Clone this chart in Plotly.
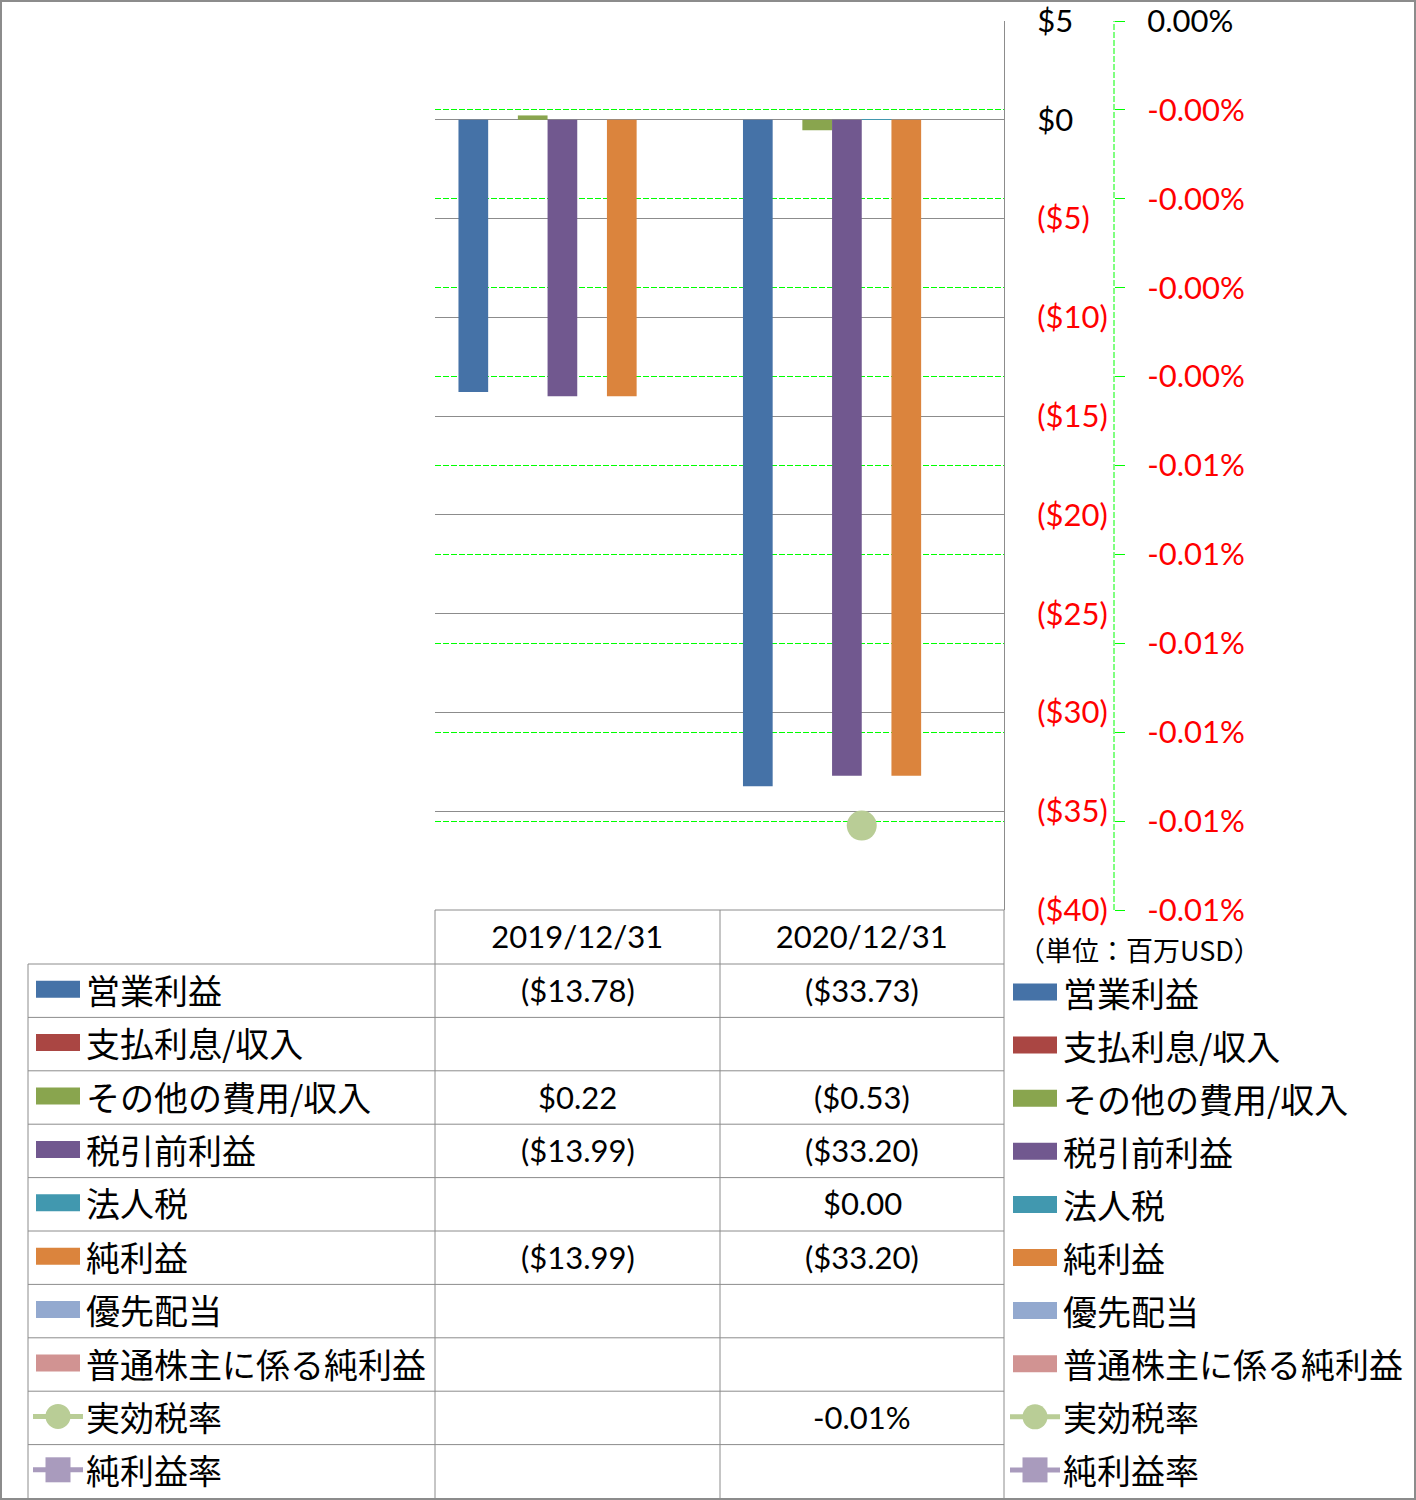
import plotly.graph_objects as go

# ---------------- data ----------------
dates = ["2019/12/31", "2020/12/31"]
series_names = ["営業利益", "支払利息/収入", "その他の費用/収入", "税引前利益", "法人税",
                "純利益", "優先配当", "普通株主に係る純利益", "実効税率", "純利益率"]
op_income = [-13.78, -33.73]
interest = [None, None]
other_income = [0.22, -0.53]
pretax_income = [-13.99, -33.20]
income_tax = [None, 0.003]
net_income = [-13.99, -33.20]
pref_dividend = [None, None]
net_common = [None, None]
eff_tax_rate = [None, -0.0000905]
net_margin = [None, None]

usd_ticks = [5, 0, -5, -10, -15, -20, -25, -30, -35, -40]
pct_ticks = [0, -0.00001, -0.00002, -0.00003, -0.00004, -0.00005,
             -0.00006, -0.00007, -0.00008, -0.00009, -0.0001]
pct_labels = ["0.00%", "-0.00%", "-0.00%", "-0.00%", "-0.00%", "-0.01%",
              "-0.01%", "-0.01%", "-0.01%", "-0.01%", "-0.01%"]
unit_label = "（単位：百万USD）"

bar_series = [op_income, interest, other_income, pretax_income, income_tax,
              net_income, pref_dividend, net_common]
line_series = [eff_tax_rate, net_margin]
bar_colors = ["#4572A7", "#AA4643", "#89A54E", "#71588F", "#4198AF",
              "#DB843D", "#93A9CF", "#D19392"]
line_colors = ["#B9CD96", "#A99BBD"]
line_symbols = ["circle", "square"]

# ---------------- layout helpers ----------------
W, H = 1416, 1500
def X(px):
    return px / W
def Y(py):
    return 1 - py / H

LAT = "Lato, 'Noto Sans CJK JP', sans-serif"
CJK = "'Noto Sans CJK JP', Lato, sans-serif"
GRAY = "#8C8C8C"
RED = "#FF0000"
LIME = "#00FF00"
DASH = "6px,2px"

def fmt_usd(v):
    if v is None:
        return ""
    if v < 0:
        return f"(${abs(v):.2f})"
    return f"${v:.2f}"

def fmt_pct(v):
    if v is None:
        return ""
    return f"{v*100:.2f}%"

def colored(t, neg):
    return f"<span style='color:{RED}'>{t}</span>" if neg else t

usd_text = [colored(fmt_usd(v).replace(".00", ""), v < 0) for v in usd_ticks]
pct_text = [colored(t, t.startswith("-")) for t in pct_labels]

fig = go.Figure()

# percent-axis traces on the main y axis
for name, vals, col, sym in zip(series_names[8:], line_series, line_colors, line_symbols):
    fig.add_trace(go.Scatter(x=dates, y=vals, name=name, mode="lines+markers",
                             line=dict(color=col, width=5),
                             marker=dict(color=col, size=30, symbol=sym),
                             xaxis="x", yaxis="y"))

for name, vals, col in zip(series_names[:8], bar_series, bar_colors):
    fig.add_trace(go.Bar(x=dates, y=vals, name=name, marker_color=col,
                         marker_line_width=0, xaxis="x", yaxis="y2"))

shapes = []
annos = []

# secondary (percent) axis dashed line
shapes.append(dict(type="line", xref="paper", yref="paper",
                   x0=X(1114), x1=X(1114), y0=Y(910), y1=Y(21),
                   line=dict(color=LIME, width=1, dash=DASH)))

# data table grid
row_top = 964
row_h = (1498 - 964) / 10
shapes.append(dict(type="line", xref="paper", yref="paper", x0=X(435), x1=X(1004),
                   y0=Y(910), y1=Y(910), line=dict(color=GRAY, width=1)))
for i in range(10):
    yy = row_top + i * row_h
    shapes.append(dict(type="line", xref="paper", yref="paper", x0=X(28), x1=X(1004),
                       y0=Y(yy), y1=Y(yy), line=dict(color=GRAY, width=1)))
for xx in (435, 720, 1004):
    shapes.append(dict(type="line", xref="paper", yref="paper", x0=X(xx), x1=X(xx),
                       y0=Y(910), y1=Y(1498), line=dict(color=GRAY, width=1)))
shapes.append(dict(type="line", xref="paper", yref="paper", x0=X(28), x1=X(28),
                   y0=Y(964), y1=Y(1498), line=dict(color=GRAY, width=1)))

# table values
col_centers = [577.5, 862]
all_series = bar_series + line_series
for i, (name, vals) in enumerate(zip(series_names, all_series)):
    yc = row_top + (i + 0.5) * row_h
    fmt = fmt_pct if i >= 8 else fmt_usd
    for xc, v in zip(col_centers, vals):
        t = fmt(v)
        if t:
            annos.append(dict(x=X(xc), y=Y(yc - 1), xref="paper", yref="paper", text=t,
                              showarrow=False, xanchor="center", yanchor="middle",
                              font=dict(family=LAT, size=31, color="black")))

# legend keys (table column and right-hand legend)
def legend_item(kx, tx, yc, i, name):
    if i < 8:
        shapes.append(dict(type="rect", xref="paper", yref="paper",
                           x0=X(kx), x1=X(kx + 44), y0=Y(yc - 8.5), y1=Y(yc + 8.5),
                           fillcolor=bar_colors[i], line=dict(width=0)))
    else:
        col = line_colors[i - 8]
        shapes.append(dict(type="line", xref="paper", yref="paper",
                           x0=X(kx - 3), x1=X(kx + 47), y0=Y(yc), y1=Y(yc),
                           line=dict(color=col, width=5)))
        cx = kx + 22
        r = 12.5
        shapes.append(dict(type="circle" if i == 8 else "rect", xref="paper", yref="paper",
                           x0=X(cx - r), x1=X(cx + r), y0=Y(yc - r), y1=Y(yc + r),
                           fillcolor=col, line=dict(width=0)))
    annos.append(dict(x=X(tx), y=Y(yc), xref="paper", yref="paper", text=name,
                      showarrow=False, xanchor="left", yanchor="middle",
                      font=dict(family=CJK, size=34, color="black")))

for i, name in enumerate(series_names):
    legend_item(36, 84, row_top + (i + 0.5) * row_h - 1.5, i, name)
    legend_item(1013, 1061, 992 + i * 53.1, i, name)

annos.append(dict(x=X(1016), y=Y(949), xref="paper", yref="paper", text=unit_label,
                  showarrow=False, xanchor="left", yanchor="middle",
                  font=dict(family=CJK, size=27, color="black")))

# outer border
shapes.append(dict(type="rect", xref="paper", yref="paper", x0=X(1), x1=X(1415),
                   y0=Y(1), y1=Y(1499), line=dict(color=GRAY, width=2)))

ydom = [Y(910), Y(21)]
fig.update_layout(
    width=W, height=H, autosize=False,
    margin=dict(l=0, r=0, t=0, b=0, pad=0),
    paper_bgcolor="white", plot_bgcolor="rgba(0,0,0,0)",
    showlegend=False,
    barmode="group", bargap=0.165, bargroupgap=0,
    font=dict(family=LAT, size=31, color="black"),
    xaxis=dict(domain=[X(435), X(1004)], anchor="y", showgrid=False, zeroline=False,
               showline=False, ticks="", tickfont=dict(family=LAT, size=31, color="black"),
               ticklabelstandoff=6, automargin=False, fixedrange=True),
    yaxis=dict(domain=ydom, anchor="free", position=X(1114), side="right",
               range=[-0.0001, 0], tickvals=pct_ticks, ticktext=pct_text,
               showgrid=True, gridcolor=LIME, griddash=DASH, gridwidth=1,
               zeroline=False, showline=False, ticks="outside", ticklen=10,
               tickcolor=LIME, tickwidth=1, ticklabelstandoff=16,
               automargin=False,
               tickfont=dict(family=LAT, size=31, color="black")),
    yaxis2=dict(domain=ydom, anchor="x", overlaying="y", side="right",
                range=[-40, 5], tickvals=usd_ticks, ticktext=usd_text,
                showgrid=True, gridcolor=GRAY, gridwidth=1, zeroline=False,
                showline=True, linecolor=GRAY, linewidth=1, ticks="",
                automargin=False,
                ticklabelstandoff=26, tickfont=dict(family=LAT, size=31, color="black")),
    shapes=shapes, annotations=annos,
)

fig.write_html("out.html")
